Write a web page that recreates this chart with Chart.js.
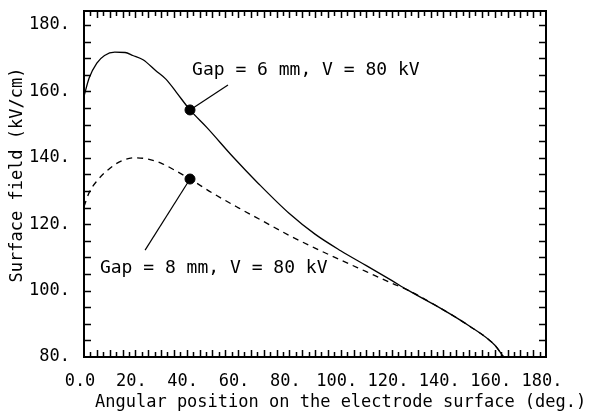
<!DOCTYPE html>
<html>
<head>
<meta charset="utf-8">
<script src="https://cdn.jsdelivr.net/npm/chart.js@4"></script>
<style>
    body { margin: 0; background: #fff; }
    #chart { width: 593px; height: 417px; }
</style>
</head>
<body>
<div id="chart"><canvas id="myChart"></canvas></div>
<script>
// surface field (kV/cm) against angular position (deg.)
var angle6 = [0, 2, 5, 8, 12, 16, 19, 23, 28, 32, 36, 41.3, 48, 58, 68, 80, 90, 100, 110, 120, 126, 140, 150, 160, 163.5]
var field6 = [158.5, 164, 168.5, 170.8, 171.8, 171.7, 170.8, 169.5, 166.2, 163.6, 159.7, 154.4, 149, 140.3, 132.2, 123.2, 117, 112, 107.5, 103, 100.2, 94.2, 89.4, 83.6, 80]

var angle8 = [0, 2, 5, 10, 15, 20, 25, 30, 35, 41.3, 50, 60, 70, 80, 90, 100, 110, 120, 126, 140, 150, 160, 163.5]
var field8 = [125.3, 129.5, 133, 136.8, 139.2, 140, 139.6, 138.4, 136.4, 133.6, 129.4, 125, 120.8, 116.6, 112.8, 109.2, 105.7, 102.2, 100.2, 94.2, 89.4, 83.6, 80]

// the two marked points and the far ends of their leader lines
var markAngle = [41.3, 41.3]
var markField = [154.4, 133.6]
var leadAngle = [56.1, 23.8]
var leadField = [161.9, 112.2]

var notes = ['Gap = 6 mm, V = 80 kV', 'Gap = 8 mm, V = 80 kV']

var xTicks = [0, 20, 40, 60, 80, 100, 120, 140, 160, 180]
var xTickLabels = ['0.0', '20.', '40.', '60.', '80.', '100.', '120.', '140.', '160.', '180.']
var yTicks = [80, 100, 120, 140, 160, 180]
var yTickLabels = ['80.', '100.', '120.', '140.', '160.', '180.']

var FONT = '"DejaVu Sans Mono", "Liberation Mono", monospace'

function pairs(xs, ys) {
    return xs.map(function (v, i) { return { x: v, y: ys[i] } })
}

// frame with inward ticks, the notes and the axis titles
var frame = {
    id: 'frame',
    afterDraw: function (chart) {
        var ctx = chart.ctx
        var a = chart.chartArea
        var x = chart.scales.x
        var y = chart.scales.y
        ctx.save()
        ctx.strokeStyle = '#000'
        ctx.lineWidth = 1.5
        ctx.beginPath()
        for (var v = 2.5; v < 180; v += 2.5) {
            var px = Math.round(x.getPixelForValue(v)) + 0.5
            var len = v % 5 === 0 ? 7 : 5
            ctx.moveTo(px, a.bottom)
            ctx.lineTo(px, a.bottom - len)
            ctx.moveTo(px, a.top)
            ctx.lineTo(px, a.top + len)
        }
        for (var w = 85; w <= 180; w += 5) {
            var py = Math.round(y.getPixelForValue(w)) + 0.5
            ctx.moveTo(a.left, py)
            ctx.lineTo(a.left + 7, py)
            ctx.moveTo(a.right, py)
            ctx.lineTo(a.right - 7, py)
        }
        ctx.stroke()
        ctx.lineWidth = 2
        ctx.strokeRect(a.left, a.top, a.right - a.left, a.bottom - a.top)

        ctx.fillStyle = '#000'
        ctx.textBaseline = 'middle'
        ctx.textAlign = 'left'
        ctx.font = '18px ' + FONT
        ctx.fillText(notes[0], x.getPixelForValue(42.1), y.getPixelForValue(166.4))
        ctx.fillText(notes[1], x.getPixelForValue(6.2), y.getPixelForValue(106.8))

        ctx.font = '17px ' + FONT
        ctx.fillText('Angular position on the electrode surface (deg.)', a.left + 11, a.bottom + 46)
        ctx.translate(18, 175)
        ctx.rotate(-Math.PI / 2)
        ctx.textAlign = 'center'
        ctx.fillText('Surface field (kV/cm)', 0, 0)
        ctx.restore()
    }
}

var ctx = document.getElementById('myChart').getContext('2d')
var myChart = new Chart(ctx, {
    type: 'scatter',
    data: {
        datasets: [{
            label: 'Gap = 6 mm',
            data: pairs(angle6, field6),
            showLine: true,
            borderColor: '#000',
            borderWidth: 1.3,
            pointRadius: 0,
            cubicInterpolationMode: 'monotone'
        }, {
            label: 'Gap = 8 mm',
            data: pairs(angle8, field8),
            showLine: true,
            borderColor: '#000',
            borderWidth: 1.3,
            borderDash: [6, 5],
            pointRadius: 0,
            cubicInterpolationMode: 'monotone'
        }, {
            label: 'leader 6',
            data: [{ x: markAngle[0], y: markField[0] }, { x: leadAngle[0], y: leadField[0] }],
            showLine: true,
            borderColor: '#000',
            borderWidth: 1.2,
            pointRadius: 0
        }, {
            label: 'leader 8',
            data: [{ x: markAngle[1], y: markField[1] }, { x: leadAngle[1], y: leadField[1] }],
            showLine: true,
            borderColor: '#000',
            borderWidth: 1.2,
            pointRadius: 0
        }, {
            label: 'marks',
            data: pairs(markAngle, markField),
            pointRadius: 5,
            pointBackgroundColor: '#000',
            pointBorderColor: '#000'
        }]
    },
    options: {
        responsive: true,
        maintainAspectRatio: false,
        animation: false,
        layout: { padding: { top: 11, right: 47, left: 0, bottom: 0 } },
        plugins: {
            legend: { display: false },
            tooltip: { enabled: false }
        },
        scales: {
            x: {
                type: 'linear',
                min: 0,
                max: 180,
                grid: { display: false, drawTicks: false },
                border: { display: false },
                afterBuildTicks: function (scale) {
                    scale.ticks = xTicks.map(function (v) { return { value: v } })
                },
                afterFit: function (scale) {
                    scale.height = 60
                    scale.paddingLeft = 0
                    scale.paddingRight = 0
                },
                ticks: {
                    autoSkip: false,
                    maxRotation: 0,
                    padding: 14,
                    labelOffset: -4,
                    color: '#000',
                    font: { family: FONT, size: 17 },
                    callback: function (v, i) { return xTickLabels[i] }
                }
            },
            y: {
                type: 'linear',
                min: 80,
                max: 184.2,
                grid: { display: false, drawTicks: false },
                border: { display: false },
                afterBuildTicks: function (scale) {
                    scale.ticks = yTicks.map(function (v) { return { value: v } })
                },
                afterFit: function (scale) {
                    scale.width = 84
                    scale.paddingTop = 0
                    scale.paddingBottom = 0
                },
                ticks: {
                    padding: 14,
                    color: '#000',
                    font: { family: FONT, size: 17 },
                    callback: function (v, i) { return yTickLabels[i] }
                }
            }
        }
    },
    plugins: [frame]
})
</script>
</body>
</html>
